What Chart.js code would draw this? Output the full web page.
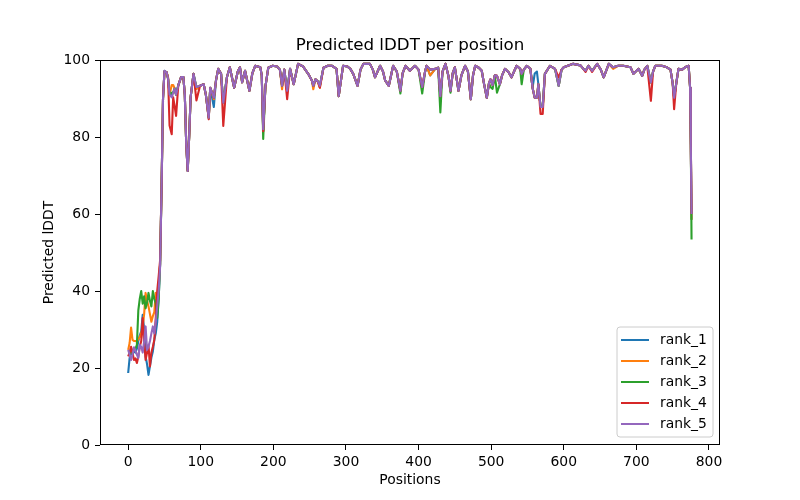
<!DOCTYPE html>
<html>
<head>
<meta charset="utf-8">
<script src="https://cdn.jsdelivr.net/npm/chart.js@4.4.1/dist/chart.umd.min.js"></script>
<style>
  body { margin: 0; background: #fff; }
  #chartLddt { display: block; }
</style>
</head>
<body>
<canvas id="chartLddt" width="800" height="500"></canvas>
<script>
const seriesNames = ['rank_1', 'rank_2', 'rank_3', 'rank_4', 'rank_5'];
const seriesColors = ['#1f77b4', '#ff7f0e', '#2ca02c', '#d62728', '#9467bd'];
const xTickValues = [0, 100, 200, 300, 400, 500, 600, 700, 800];

/* first residues, every 2 positions, one array per rank */
const earlyPositions = [0, 2, 4, 6, 8, 10, 12, 14, 16, 18, 20, 22, 24, 26, 28, 30, 32, 34, 36, 38, 40, 42, 44, 46, 48, 50];
const earlyRank1 = [18.7, 22.6, 24, 23.5, 24.5, 24, 25, 27, 28.5, 29.5, 33.8, 30, 23, 21, 18.2, 20.5, 22.7, 24.3, 27.3, 29, 32, 38, 47, 67, 90, 97.2];
const earlyRank2 = [24.7, 26.5, 30.5, 27.3, 27, 27, 26.9, 27.5, 28, 29, 30.8, 34, 39.5, 37.5, 36, 34, 32, 33.5, 34.5, 39.5, 38, 41, 47, 67, 90, 97];
const earlyRank3 = [23.5, 23.4, 24, 24.5, 25, 25, 26, 35, 38, 40, 36.7, 38.6, 35.5, 37, 39.5, 37.5, 36, 40, 38, 36.7, 33, 38, 47, 67, 90, 97];
const earlyRank4 = [23, 24, 25.5, 24, 22.1, 22.5, 21.3, 23, 25.6, 27, 33, 27, 22.1, 24, 26, 20.4, 24, 25.5, 27.3, 33, 40, 43.8, 48, 67, 90, 97];
const earlyRank5 = [24.7, 23.5, 22.1, 23.5, 25.4, 24.5, 23.5, 22.6, 26, 25.5, 24, 27, 30.8, 24.7, 25.5, 27, 29, 30.8, 29, 32, 36, 40, 46.4, 67, 90, 97.2];

/* plateau, shared shape (rank_5 drawn on top) */
const plateauPositions = [53, 55, 57, 60, 62, 64, 66, 69, 73, 76, 78, 80, 82, 84, 86, 90, 94, 99, 104, 107,
  111, 113, 118, 121, 124, 128, 131, 136, 140, 146, 151, 154, 157, 161, 167, 171, 175, 182, 184, 186,
  189, 193, 199, 205, 209, 212, 215, 219, 223, 228, 234, 241, 248, 253, 255, 258, 261, 264, 269, 275,
  281, 287, 290, 296, 302, 306, 310, 316, 320, 324, 333, 337, 340, 347, 351, 354, 359, 365, 370, 375,
  378, 382, 388, 395, 400, 405, 409, 411, 416, 423, 427, 430, 433, 437, 441, 444, 447, 450, 455, 459,
  464, 468, 472, 475, 478, 483, 487, 490, 494, 497, 499, 502, 505, 508, 512, 515, 519, 524, 528, 535,
  540, 542, 545, 549, 554, 557, 560, 563, 565, 568, 571, 574, 581, 588, 593, 597, 600, 613, 623, 627,
  630, 634, 639, 646, 651, 655, 659, 662, 668, 675, 682, 692, 696, 703, 708, 711, 715, 720, 723, 726,
  735, 742, 747, 750, 752, 755, 758, 763, 767, 772, 774, 775, 776];
const plateauValues = [96.8, 95.1, 91, 90.3, 91.5, 92.6, 91, 93.4, 95.6, 95.6, 91, 78, 71.2, 80, 90.3, 96.4, 93, 93.3, 93.7, 91,
  85, 92.8, 90.2, 94.7, 97.7, 96.4, 88.9, 95.5, 98.1, 92.8, 97, 98.1, 94.2, 97.2, 92, 96.5, 98.5, 98.1, 96, 82,
  93, 98, 98.5, 98.3, 97.5, 93.3, 97.5, 92, 97.7, 93.7, 99, 98.3, 96.4, 94.7, 93.3, 95, 94.5, 93.3, 98, 98.5,
  98.5, 97.7, 90.6, 98.5, 98.3, 97.7, 96.4, 93.3, 97.5, 99, 99, 97.5, 95.5, 98.5, 97, 94.7, 93.3, 98.5, 97, 92,
  96.5, 98.5, 97.2, 98.5, 97.5, 93, 97, 98.5, 97.5, 97.7, 98, 90.6, 97, 99, 96, 92, 96.5, 98.1, 92, 96,
  98.5, 97, 89.8, 96, 98.5, 98, 97.2, 94, 90.2, 94, 95, 93.5, 96, 95.9, 93.7, 96, 97.7, 96.8, 95.5, 98.5,
  97.7, 96.4, 97.5, 98.5, 97.7, 92.8, 90.2, 90.2, 93.7, 87.8, 87.8, 96.4, 98.5, 97.7, 93.3, 97.5, 98.1, 99, 98.6, 97.7,
  97.2, 98.5, 97.2, 99, 97.5, 95.5, 97.5, 99, 98.1, 98.5, 98.5, 98.1, 96.4, 97.7, 95.9, 97.5, 98.5, 94.2, 97, 98.5,
  98.5, 98.1, 97.5, 94, 90.2, 94, 97.7, 97.5, 98.1, 98.5, 92.8, 78, 60];

/* where a rank leaves the shared shape: [position, value] */
const rank1Diffs = [[60, 91], [94, 92.5], [118, 87.8], [186, 81.5], [416, 96], [560, 96.5], [563, 97], [776, 58.5]];
const rank2Diffs = [[55, 95.5], [60, 93.5], [62, 93.5], [94, 92.5], [118, 89.8], [186, 81.5], [212, 92.4], [255, 92.4],
  [264, 92.8], [416, 96], [668, 97.7], [776, 58.5]];
const rank3Diffs = [[60, 91.5], [131, 89], [186, 79.5], [375, 91.3], [405, 91.3], [430, 86.4], [444, 91.5], [499, 93],
  [502, 92.5], [508, 91.5], [542, 93.7], [776, 53.4]];
const rank4Diffs = [[57, 83], [60, 80.7], [62, 90.3], [64, 88], [66, 85.5], [94, 89.5], [111, 84.6], [131, 82.9],
  [186, 81.5], [219, 89.8], [264, 92.8], [568, 86], [571, 86], [593, 95.5], [630, 96.9], [639, 96.9], [720, 89.4],
  [752, 87.2], [776, 60]];
const rank5Diffs = [];

const earlyValues = [earlyRank1, earlyRank2, earlyRank3, earlyRank4, earlyRank5];
const diffs = [rank1Diffs, rank2Diffs, rank3Diffs, rank4Diffs, rank5Diffs];

buildPoints = (early, diff) => {
  let points = [];
  let own = new Map(diff);
  for (let i = 0; i < earlyPositions.length; i++)
    points.push({ x: earlyPositions[i], y: early[i] });
  for (let i = 0; i < plateauPositions.length; i++) {
    let p = plateauPositions[i];
    points.push({ x: p, y: own.has(p) ? own.get(p) : plateauValues[i] });
  }
  return points;
};

let datasets = [];
for (let i = 0; i < seriesNames.length; i++) {
  datasets.push({
    label: seriesNames[i],
    data: buildPoints(earlyValues[i], diffs[i]),
    borderColor: seriesColors[i],
    backgroundColor: seriesColors[i],
    borderWidth: 2.1,
    borderJoinStyle: 'round',
    pointRadius: 0,
    tension: 0,
    fill: false,
    order: seriesNames.length - i, // rank_5 on top like matplotlib
  });
}

const FONT = 'DejaVu Sans';

/* frame, title and legend drawn like the matplotlib figure */
const figurePlugin = {
  id: 'figurePlugin',
  afterDraw: (chart) => {
    let c = chart.ctx;
    let a = chart.chartArea;
    c.save();
    c.strokeStyle = '#000';
    c.lineWidth = 1;
    c.strokeRect(Math.round(a.left) + 0.5, Math.round(a.top) + 0.5, Math.round(a.right - a.left) - 1, Math.round(a.bottom - a.top) - 1);

    c.fillStyle = '#000';
    c.font = '16.7px "' + FONT + '"';
    c.textAlign = 'center';
    c.textBaseline = 'middle';
    c.fillText('Predicted lDDT per position', (a.left + a.right) / 2, 46);

    // legend box
    let bx = 617, by = 327, bw = 96, bh = 110, r = 3;
    c.beginPath();
    c.moveTo(bx + r, by);
    c.arcTo(bx + bw, by, bx + bw, by + bh, r);
    c.arcTo(bx + bw, by + bh, bx, by + bh, r);
    c.arcTo(bx, by + bh, bx, by, r);
    c.arcTo(bx, by, bx + bw, by, r);
    c.closePath();
    c.fillStyle = 'rgba(255,255,255,0.8)';
    c.fill();
    c.strokeStyle = '#cccccc';
    c.lineWidth = 1;
    c.stroke();

    c.font = '13.9px "' + FONT + '"';
    c.textAlign = 'left';
    for (let i = 0; i < seriesNames.length; i++) {
      let y = 340 + i * 21;
      c.strokeStyle = seriesColors[i];
      c.lineWidth = 2;
      c.beginPath();
      c.moveTo(621, y);
      c.lineTo(649, y);
      c.stroke();
      c.fillStyle = '#000';
      c.fillText(seriesNames[i], 660, y);
    }
    c.restore();
  },
};

const ctx = document.getElementById('chartLddt').getContext('2d');
const chartLddt = new Chart(ctx, {
  type: 'line',
  data: { datasets: datasets },
  plugins: [figurePlugin],
  options: {
    responsive: false,
    animation: false,
    devicePixelRatio: 1,
    layout: { padding: { left: 0, right: 80, top: 60, bottom: 0 } },
    plugins: {
      legend: { display: false },
      title: { display: false },
      tooltip: { enabled: false },
    },
    scales: {
      x: {
        type: 'linear',
        min: -38.8,
        max: 815.2,
        afterBuildTicks: (scale) => {
          scale.ticks = xTickValues.map((v) => ({ value: v }));
        },
        afterFit: (scale) => {
          scale.height = 55;
        },
        grid: { drawOnChartArea: false, drawTicks: true, tickLength: 5, color: '#000' },
        border: { display: false },
        ticks: { color: '#000', padding: 4, maxRotation: 0, font: { family: FONT, size: 13.9 } },
        title: {
          display: true,
          text: 'Positions',
          color: '#000',
          font: { family: FONT, size: 13.9 },
          padding: { top: 0, bottom: 11 },
        },
      },
      y: {
        min: 0,
        max: 100,
        afterFit: (scale) => {
          scale.width = 100;
        },
        grid: { drawOnChartArea: false, drawTicks: true, tickLength: 5, color: '#000' },
        border: { display: false },
        ticks: { stepSize: 20, color: '#000', padding: 5, font: { family: FONT, size: 13.9 } },
        title: {
          display: true,
          text: 'Predicted lDDT',
          color: '#000',
          font: { family: FONT, size: 13.9 },
          padding: { top: 41, bottom: 0 },
        },
      },
    },
  },
});
</script>
</body>
</html>
